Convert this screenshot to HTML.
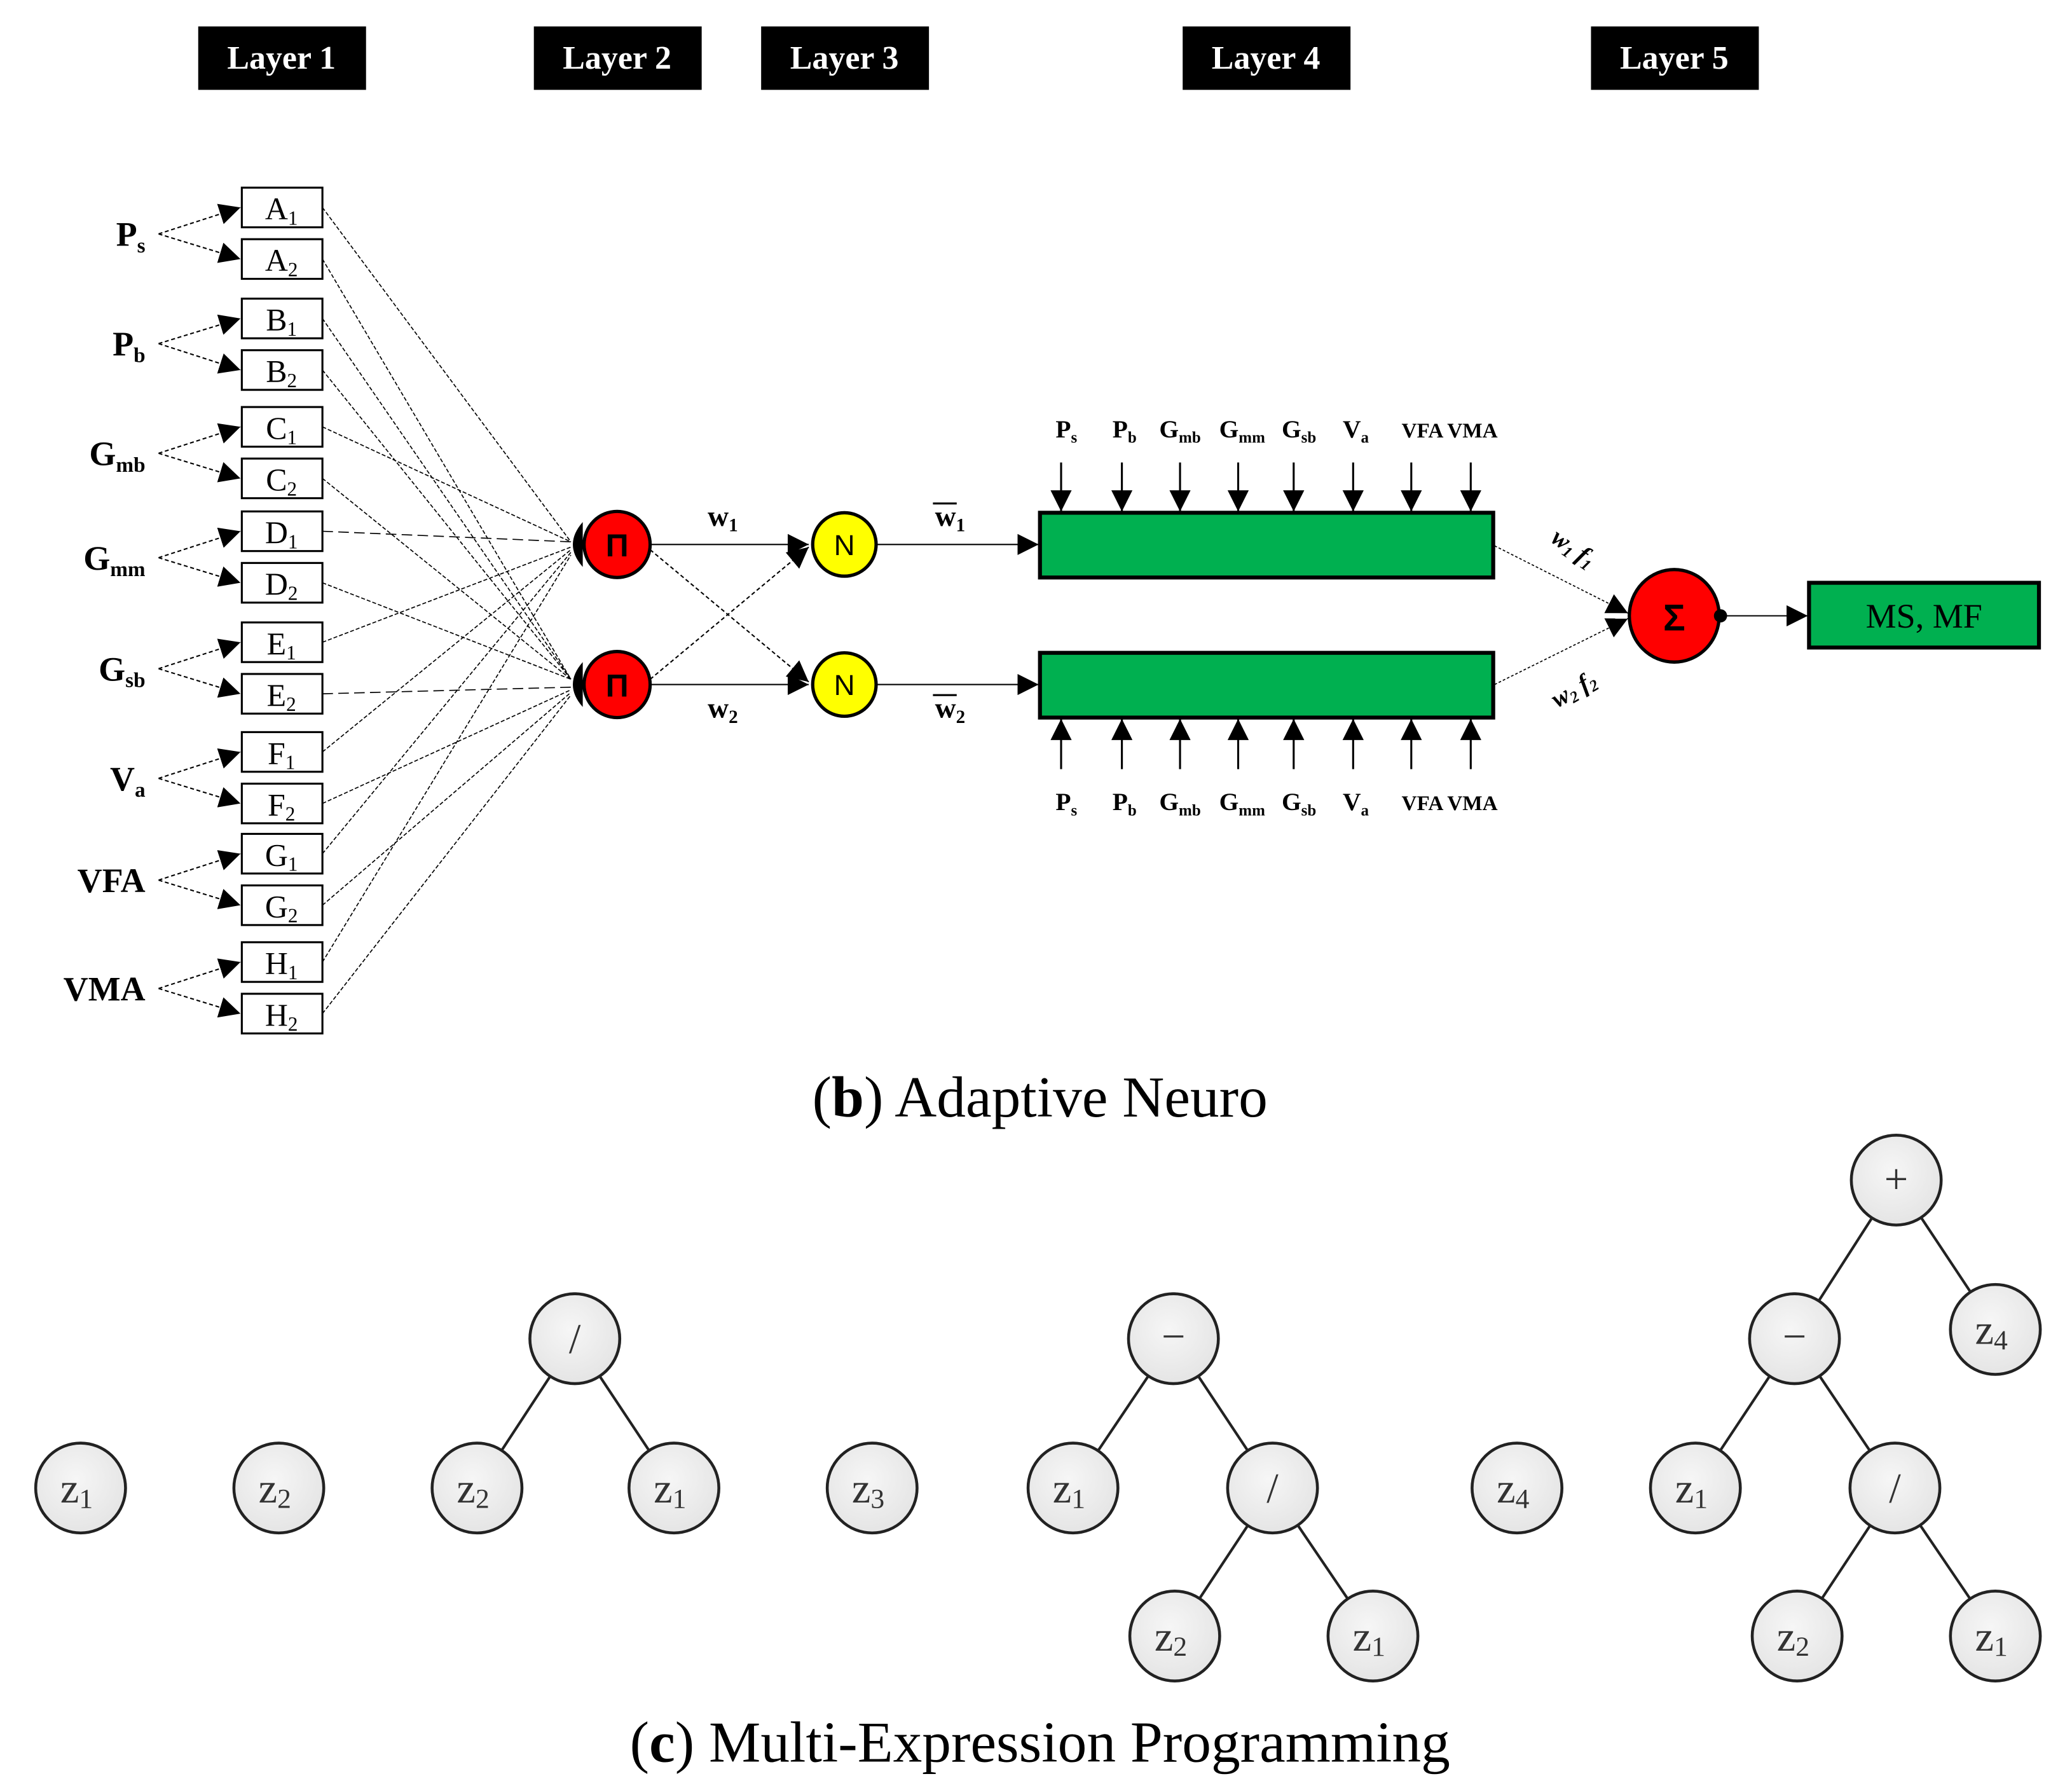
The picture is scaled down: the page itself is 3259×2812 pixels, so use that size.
<!DOCTYPE html>
<html><head><meta charset="utf-8"><style>html,body{margin:0;padding:0;background:#fff}svg{display:block}</style></head>
<body>
<svg width="3259" height="2812" viewBox="0 0 1568 1353" preserveAspectRatio="none" xmlns="http://www.w3.org/2000/svg" font-family="'Liberation Serif',serif">
<defs>
<marker id="ah2" viewBox="0 0 10 10" refX="10" refY="5" markerWidth="16" markerHeight="16" orient="auto" markerUnits="userSpaceOnUse"><path d="M0,0 L10,5 L0,10 z" fill="#000"/></marker>
<radialGradient id="cg" cx="0.45" cy="0.4" r="0.7"><stop offset="0" stop-color="#f6f6f6"/><stop offset="1" stop-color="#e2e2e2"/></radialGradient>
</defs>
<g font-weight="bold" font-size="25" fill="#fff" text-anchor="middle">
<rect x="150" y="20" width="127" height="48" fill="#000"/><text x="213" y="52">Layer 1</text>
<rect x="404" y="20" width="127" height="48" fill="#000"/><text x="467" y="52">Layer 2</text>
<rect x="576" y="20" width="127" height="48" fill="#000"/><text x="639" y="52">Layer 3</text>
<rect x="895" y="20" width="127" height="48" fill="#000"/><text x="958" y="52">Layer 4</text>
<rect x="1204" y="20" width="127" height="48" fill="#000"/><text x="1267" y="52">Layer 5</text>
</g>
<g stroke="#000" stroke-width="0.8" stroke-dasharray="3,1.5" fill="none">
<line x1="244" y1="157" x2="432" y2="410"/>
<line x1="244" y1="196" x2="432" y2="514"/>
<line x1="244" y1="241" x2="432" y2="514"/>
<line x1="244" y1="280" x2="432" y2="514"/>
<line x1="244" y1="323" x2="432" y2="410"/>
<line x1="244" y1="362" x2="432" y2="514"/>
<line x1="244" y1="402" x2="432" y2="410" stroke-dasharray="8,4"/>
<line x1="244" y1="441" x2="432" y2="514"/>
<line x1="244" y1="486" x2="432" y2="414"/>
<line x1="244" y1="525" x2="432" y2="520" stroke-dasharray="8,4"/>
<line x1="244" y1="569" x2="432" y2="416"/>
<line x1="244" y1="608" x2="432" y2="522"/>
<line x1="244" y1="646" x2="432" y2="418"/>
<line x1="244" y1="685" x2="432" y2="524"/>
<line x1="244" y1="728" x2="432" y2="420"/>
<line x1="244" y1="767" x2="432" y2="526"/>
</g>
<g stroke="#000" stroke-width="1" stroke-dasharray="3,2" fill="none" marker-end="url(#ah2)">
<path d="M120,177 L182,157"/><path d="M120,177 L182,196"/>
<path d="M120,260 L182,241"/><path d="M120,260 L182,280"/>
<path d="M120,343 L182,323"/><path d="M120,343 L182,362"/>
<path d="M120,422 L182,402"/><path d="M120,422 L182,441"/>
<path d="M120,506 L182,486"/><path d="M120,506 L182,525"/>
<path d="M120,589 L182,569"/><path d="M120,589 L182,608"/>
<path d="M120,666 L182,646"/><path d="M120,666 L182,685"/>
<path d="M120,748 L182,728"/><path d="M120,748 L182,767"/>
</g>
<g font-weight="bold" font-size="26" text-anchor="end">
<text x="110" y="186">P<tspan font-size="16" dy="5">s</tspan></text>
<text x="110" y="269">P<tspan font-size="16" dy="5">b</tspan></text>
<text x="110" y="352">G<tspan font-size="16" dy="5">mb</tspan></text>
<text x="110" y="431">G<tspan font-size="16" dy="5">mm</tspan></text>
<text x="110" y="515">G<tspan font-size="16" dy="5">sb</tspan></text>
<text x="110" y="598">V<tspan font-size="16" dy="5">a</tspan></text>
<text x="110" y="675">VFA</text>
<text x="110" y="757">VMA</text>
</g>
<g stroke="#000" stroke-width="1.5" fill="#fff">
<rect x="183" y="142" width="61" height="30"/><rect x="183" y="181" width="61" height="30"/>
<rect x="183" y="226" width="61" height="30"/><rect x="183" y="265" width="61" height="30"/>
<rect x="183" y="308" width="61" height="30"/><rect x="183" y="347" width="61" height="30"/>
<rect x="183" y="387" width="61" height="30"/><rect x="183" y="426" width="61" height="30"/>
<rect x="183" y="471" width="61" height="30"/><rect x="183" y="510" width="61" height="30"/>
<rect x="183" y="554" width="61" height="30"/><rect x="183" y="593" width="61" height="30"/>
<rect x="183" y="631" width="61" height="30"/><rect x="183" y="670" width="61" height="30"/>
<rect x="183" y="713" width="61" height="30"/><rect x="183" y="752" width="61" height="30"/>
</g>
<g font-size="24" text-anchor="middle">
<text x="213" y="166">A<tspan font-size="15" dy="4">1</tspan></text>
<text x="213" y="205">A<tspan font-size="15" dy="4">2</tspan></text>
<text x="213" y="250">B<tspan font-size="15" dy="4">1</tspan></text>
<text x="213" y="289">B<tspan font-size="15" dy="4">2</tspan></text>
<text x="213" y="332">C<tspan font-size="15" dy="4">1</tspan></text>
<text x="213" y="371">C<tspan font-size="15" dy="4">2</tspan></text>
<text x="213" y="411">D<tspan font-size="15" dy="4">1</tspan></text>
<text x="213" y="450">D<tspan font-size="15" dy="4">2</tspan></text>
<text x="213" y="495">E<tspan font-size="15" dy="4">1</tspan></text>
<text x="213" y="534">E<tspan font-size="15" dy="4">2</tspan></text>
<text x="213" y="578">F<tspan font-size="15" dy="4">1</tspan></text>
<text x="213" y="617">F<tspan font-size="15" dy="4">2</tspan></text>
<text x="213" y="655">G<tspan font-size="15" dy="4">1</tspan></text>
<text x="213" y="694">G<tspan font-size="15" dy="4">2</tspan></text>
<text x="213" y="737">H<tspan font-size="15" dy="4">1</tspan></text>
<text x="213" y="776">H<tspan font-size="15" dy="4">2</tspan></text>
</g>
<g stroke="#000" stroke-width="1" fill="none">
<line x1="492" y1="412" x2="612" y2="412" marker-end="url(#ah2)"/>
<line x1="492" y1="518" x2="612" y2="518" marker-end="url(#ah2)"/>
<line x1="492" y1="416" x2="612" y2="516" stroke-dasharray="3,2" marker-end="url(#ah2)"/>
<line x1="492" y1="514" x2="612" y2="414" stroke-dasharray="3,2" marker-end="url(#ah2)"/>
<line x1="664" y1="412" x2="786" y2="412" marker-end="url(#ah2)"/>
<line x1="664" y1="518" x2="786" y2="518" marker-end="url(#ah2)"/>
</g>
<path d="M441,395 Q426,412 441,429 Z" fill="#000"/>
<path d="M441,501 Q426,518 441,535 Z" fill="#000"/>
<circle cx="467" cy="412" r="25" fill="#f00" stroke="#000" stroke-width="2.5"/>
<circle cx="467" cy="518" r="25" fill="#f00" stroke="#000" stroke-width="2.5"/>
<g font-family="'Liberation Sans',sans-serif" font-weight="bold" font-size="24" text-anchor="middle">
<text x="467" y="421">Π</text><text x="467" y="527">Π</text>
</g>
<circle cx="639" cy="412" r="24" fill="#ff0" stroke="#000" stroke-width="2.5"/>
<circle cx="639" cy="518" r="24" fill="#ff0" stroke="#000" stroke-width="2.5"/>
<g font-family="'Liberation Sans',sans-serif" font-size="22" text-anchor="middle">
<text x="639" y="420">N</text><text x="639" y="526">N</text>
</g>
<g font-weight="bold" font-size="22" text-anchor="middle">
<text x="547" y="398">w<tspan font-size="14" dy="4">1</tspan></text>
<text x="547" y="543">w<tspan font-size="14" dy="4">2</tspan></text>
<text x="719" y="398">w<tspan font-size="14" dy="4">1</tspan></text>
<text x="719" y="543">w<tspan font-size="14" dy="4">2</tspan></text>
</g>
<line x1="706" y1="381" x2="724" y2="381" stroke="#000" stroke-width="1.5"/>
<line x1="706" y1="526" x2="724" y2="526" stroke="#000" stroke-width="1.5"/>
<rect x="787" y="388" width="343" height="49" fill="#00b050" stroke="#000" stroke-width="3"/>
<rect x="787" y="494" width="343" height="49" fill="#00b050" stroke="#000" stroke-width="3"/>
<g stroke="#000" stroke-width="1.5" marker-end="url(#ah2)">
<line x1="803" y1="350" x2="803" y2="387"/><line x1="849" y1="350" x2="849" y2="387"/>
<line x1="893" y1="350" x2="893" y2="387"/><line x1="937" y1="350" x2="937" y2="387"/>
<line x1="979" y1="350" x2="979" y2="387"/><line x1="1024" y1="350" x2="1024" y2="387"/>
<line x1="1068" y1="350" x2="1068" y2="387"/><line x1="1113" y1="350" x2="1113" y2="387"/>
<line x1="803" y1="582" x2="803" y2="544"/><line x1="849" y1="582" x2="849" y2="544"/>
<line x1="893" y1="582" x2="893" y2="544"/><line x1="937" y1="582" x2="937" y2="544"/>
<line x1="979" y1="582" x2="979" y2="544"/><line x1="1024" y1="582" x2="1024" y2="544"/>
<line x1="1068" y1="582" x2="1068" y2="544"/><line x1="1113" y1="582" x2="1113" y2="544"/>
</g>
<g font-weight="bold" font-size="19" text-anchor="middle">
<text x="807" y="331">P<tspan font-size="12" dy="4">s</tspan></text>
<text x="851" y="331">P<tspan font-size="12" dy="4">b</tspan></text>
<text x="893" y="331">G<tspan font-size="12" dy="4">mb</tspan></text>
<text x="940" y="331">G<tspan font-size="12" dy="4">mm</tspan></text>
<text x="983" y="331">G<tspan font-size="12" dy="4">sb</tspan></text>
<text x="1026" y="331">V<tspan font-size="12" dy="4">a</tspan></text>
<text x="1097" y="331" font-size="16">VFA VMA</text>
<text x="807" y="613">P<tspan font-size="12" dy="4">s</tspan></text>
<text x="851" y="613">P<tspan font-size="12" dy="4">b</tspan></text>
<text x="893" y="613">G<tspan font-size="12" dy="4">mb</tspan></text>
<text x="940" y="613">G<tspan font-size="12" dy="4">mm</tspan></text>
<text x="983" y="613">G<tspan font-size="12" dy="4">sb</tspan></text>
<text x="1026" y="613">V<tspan font-size="12" dy="4">a</tspan></text>
<text x="1097" y="613" font-size="16">VFA VMA</text>
</g>
<g stroke="#000" stroke-width="0.8" stroke-dasharray="2,1.5">
<line x1="1131" y1="413" x2="1232" y2="464" marker-end="url(#ah2)"/>
<line x1="1131" y1="518" x2="1232" y2="468" marker-end="url(#ah2)"/>
</g>
<g font-weight="bold" font-style="italic" font-size="19">
<text x="1170" y="418" transform="rotate(35 1185 418)">w<tspan font-size="12" dy="3">1</tspan><tspan dy="-3"> f</tspan><tspan font-size="12" dy="3">1</tspan></text>
<text x="1172" y="528" transform="rotate(-30 1190 520)">w<tspan font-size="12" dy="3">2</tspan><tspan dy="-3"> f</tspan><tspan font-size="12" dy="3">2</tspan></text>
</g>
<ellipse cx="1267" cy="466" rx="34" ry="35" fill="#f00" stroke="#000" stroke-width="2.5"/>
<text x="1267" y="477" font-family="'Liberation Sans',sans-serif" font-weight="bold" font-size="28" text-anchor="middle">Σ</text>
<circle cx="1302" cy="466" r="5" fill="#000"/>
<line x1="1305" y1="466" x2="1368" y2="466" stroke="#000" stroke-width="1" marker-end="url(#ah2)"/>
<rect x="1369" y="441" width="174" height="49" fill="#00b050" stroke="#000" stroke-width="3"/>
<text x="1456" y="475" font-size="26" text-anchor="middle">MS, MF</text>
<text x="787" y="845" font-size="44" text-anchor="middle">(<tspan font-weight="bold">b</tspan>) Adaptive Neuro</text>
<g stroke="#222" stroke-width="2">
<line x1="435" y1="1013" x2="361" y2="1126"/><line x1="435" y1="1013" x2="510" y2="1126"/>
<line x1="888" y1="1013" x2="812" y2="1126"/><line x1="888" y1="1013" x2="963" y2="1126"/>
<line x1="963" y1="1126" x2="889" y2="1238"/><line x1="963" y1="1126" x2="1039" y2="1238"/>
<line x1="1435" y1="893" x2="1358" y2="1013"/><line x1="1435" y1="893" x2="1510" y2="1006"/>
<line x1="1358" y1="1013" x2="1283" y2="1126"/><line x1="1358" y1="1013" x2="1434" y2="1126"/>
<line x1="1434" y1="1126" x2="1360" y2="1238"/><line x1="1434" y1="1126" x2="1510" y2="1238"/>
</g>
<g fill="url(#cg)" stroke="#222" stroke-width="2.2">
<circle cx="61" cy="1126" r="34"/><circle cx="211" cy="1126" r="34"/>
<circle cx="435" cy="1013" r="34"/><circle cx="361" cy="1126" r="34"/><circle cx="510" cy="1126" r="34"/>
<circle cx="660" cy="1126" r="34"/>
<circle cx="888" cy="1013" r="34"/><circle cx="812" cy="1126" r="34"/><circle cx="963" cy="1126" r="34"/>
<circle cx="889" cy="1238" r="34"/><circle cx="1039" cy="1238" r="34"/>
<circle cx="1148" cy="1126" r="34"/>
<circle cx="1435" cy="893" r="34"/><circle cx="1358" cy="1013" r="34"/><circle cx="1510" cy="1006" r="34"/>
<circle cx="1283" cy="1126" r="34"/><circle cx="1434" cy="1126" r="34"/>
<circle cx="1360" cy="1238" r="34"/><circle cx="1510" cy="1238" r="34"/>
</g>
<g font-size="32" text-anchor="middle" fill="#333">
<text x="58" y="1137">z<tspan font-size="21" dy="4">1</tspan></text>
<text x="208" y="1137">z<tspan font-size="21" dy="4">2</tspan></text>
<text x="435" y="1024">/</text>
<text x="358" y="1137">z<tspan font-size="21" dy="4">2</tspan></text>
<text x="507" y="1137">z<tspan font-size="21" dy="4">1</tspan></text>
<text x="657" y="1137">z<tspan font-size="21" dy="4">3</tspan></text>
<text x="888" y="1022">−</text>
<text x="809" y="1137">z<tspan font-size="21" dy="4">1</tspan></text>
<text x="963" y="1137">/</text>
<text x="886" y="1249">z<tspan font-size="21" dy="4">2</tspan></text>
<text x="1036" y="1249">z<tspan font-size="21" dy="4">1</tspan></text>
<text x="1145" y="1137">z<tspan font-size="21" dy="4">4</tspan></text>
<text x="1435" y="903">+</text>
<text x="1358" y="1022">−</text>
<text x="1507" y="1017">z<tspan font-size="21" dy="4">4</tspan></text>
<text x="1280" y="1137">z<tspan font-size="21" dy="4">1</tspan></text>
<text x="1434" y="1137">/</text>
<text x="1357" y="1249">z<tspan font-size="21" dy="4">2</tspan></text>
<text x="1507" y="1249">z<tspan font-size="21" dy="4">1</tspan></text>
</g>
<text x="787" y="1333" font-size="44" text-anchor="middle">(<tspan font-weight="bold">c</tspan>) Multi-Expression Programming</text>
</svg>
</body></html>
